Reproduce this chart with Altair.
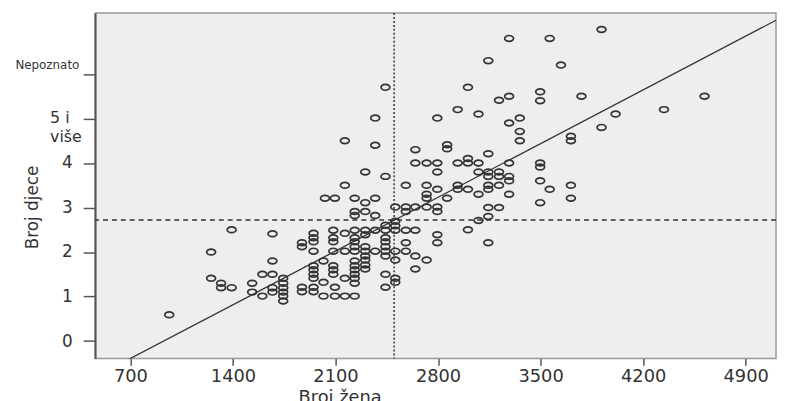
import json
import altair as alt
import pandas as pd

# ---- data ----
x_ticks = [700, 1400, 2100, 2800, 3500, 4200, 4900]
y_ticks = [0, 1, 2, 3, 4, 5, 6]
y_tick_text = ["0", "1", "2", "3", "4", ["5 i", "više"], "Nepoznato"]

# Broj žena (women) and Broj djece (children), one entry per municipality
women = [
    965, 1251, 1391, 1251, 1319, 1319, 1391, 1531, 1531, 1601, 1601, 1670, 1670, 1670, 1670, 1670,
    1743, 1743, 1743, 1743, 1743, 1743,
    1871, 1871, 1871, 1871,
    1950, 1950, 1950, 1950, 1950, 1950, 1950, 1950, 1950, 1950,
    2018, 2018, 2018, 2028, 2096,
    2085, 2085, 2085, 2085, 2085, 2085, 2085, 2096, 2096,
    2164, 2164, 2164, 2164, 2164, 2164,
    2231, 2231, 2231, 2231, 2231, 2231, 2231, 2231, 2231, 2231, 2231, 2231, 2231, 2231, 2231,
    2303, 2303, 2303, 2303, 2303, 2303, 2303, 2303, 2303, 2303, 2303,
    2371, 2371, 2371, 2371, 2371, 2371,
    2441, 2441, 2441, 2441, 2441, 2441, 2441, 2441, 2441, 2441, 2441,
    2508, 2508, 2508, 2508, 2508, 2508, 2508, 2508,
    2580, 2580, 2580, 2580, 2580, 2580,
    2645, 2645, 2645, 2645, 2645, 2645,
    2722, 2722, 2722, 2722, 2722, 2722,
    2795, 2795, 2795, 2795, 2795, 2795, 2795, 2795,
    2862, 2862, 2862,
    2934, 2934, 2934, 2934,
    3004, 3004, 3004, 3004, 3004,
    3076, 3076, 3076, 3076, 3076,
    3143, 3143, 3143, 3143, 3143, 3143, 3143, 3143, 3143,
    3216, 3216, 3216, 3216, 3216,
    3285, 3285, 3285, 3285, 3285, 3285, 3285,
    3358, 3358, 3358,
    3497, 3497, 3497, 3497, 3497, 3497,
    3562, 3562, 3639, 3707, 3707, 3707, 3707, 3779, 3916, 3916, 4012, 4342, 4619,
]
children = [
    0.59, 2.00, 2.50, 1.41, 1.30, 1.20, 1.20, 1.30, 1.10, 1.01, 1.50, 1.50, 1.80, 2.41, 1.20, 1.10,
    1.41, 1.30, 1.20, 1.10, 1.01, 0.90,
    2.21, 2.12, 1.21, 1.11,
    2.42, 2.32, 2.23, 2.02, 1.69, 1.60, 1.50, 1.41, 1.21, 1.11,
    1.80, 1.32, 1.01, 3.21, 3.21,
    2.49, 2.32, 2.23, 2.02, 1.69, 1.60, 1.50, 1.21, 1.01,
    2.42, 2.02, 1.41, 1.01, 3.50, 4.50,
    3.21, 2.91, 2.82, 2.49, 2.32, 2.23, 2.12, 2.02, 1.80, 1.69, 1.60, 1.50, 1.41, 1.30, 1.01,
    3.11, 2.91, 2.49, 2.39, 2.12, 2.02, 1.91, 1.82, 1.71, 1.62, 3.80,
    3.21, 2.82, 2.49, 2.02, 5.01, 4.40,
    5.70, 3.70, 2.60, 2.49, 2.32, 2.23, 2.12, 2.02, 1.91, 1.50, 1.21,
    3.01, 2.69, 2.59, 2.49, 2.02, 1.82, 1.41, 1.32,
    3.50, 3.01, 2.91, 2.49, 2.21, 2.02,
    4.30, 4.00, 3.01, 2.49, 1.91, 1.62,
    4.00, 3.50, 3.30, 3.21, 3.01, 1.82,
    5.01, 4.00, 3.80, 3.41, 3.01, 2.91, 2.39, 2.21,
    4.41, 4.32, 3.21,
    5.20, 4.00, 3.50, 3.41,
    5.70, 4.10, 4.00, 3.41, 2.50,
    5.10, 4.00, 3.80, 3.30, 2.71,
    6.30, 4.21, 3.80, 3.70, 3.50, 3.41, 3.00, 2.80, 2.21,
    5.41, 3.80, 3.70, 3.50, 3.00,
    6.80, 5.50, 4.90, 4.00, 3.70, 3.60, 3.30,
    5.01, 4.71, 4.50,
    5.60, 5.40, 4.00, 3.91, 3.60, 3.11,
    6.80, 3.41, 6.20, 4.60, 4.50, 3.50, 3.21, 5.50, 7.00, 4.80, 5.10, 5.20, 5.50,
]

# reference (mean) lines
ref_women = [2500]
ref_children = [2.72]

# fitted regression line
fit_intercept = -1.597
fit_slope = 0.001724
fit_women = [459, 5107]

x_domain = [459, 5107]
y_domain = [-0.39, 7.37]

# ---- tables ----
pts = pd.DataFrame({"w": women, "c": children})
ref_v = pd.DataFrame({"w": ref_women})
ref_h = pd.DataFrame({"c": ref_children})
fit = pd.DataFrame({"w": fit_women, "c": [fit_intercept + fit_slope * v for v in fit_women]})

FONT = "DejaVu Sans"
INK = "#333333"

x_scale = alt.Scale(domain=x_domain, nice=False, zero=False)
y_scale = alt.Scale(domain=y_domain, nice=False, zero=False)

x_axis = alt.Axis(
    values=x_ticks, format="d", title="Broj žena", grid=False,
    labelFont=FONT, labelFontSize=18, labelColor=INK, labelPadding=2,
    labelFlush=False, labelOverlap=False,
    tickSize=7, tickColor="#555555", tickWidth=1.5,
    domain=False,
    titleFont=FONT, titleFontSize=18, titleFontWeight="normal", titleColor=INK,
    titleX=247, titleY=45, titleAlign="center", titleBaseline="alphabetic",
)

label_js = json.dumps(y_tick_text, ensure_ascii=False).replace('"', "'")
y_axis = alt.Axis(
    values=y_ticks, title="Broj djece", grid=False,
    labelExpr=f"{label_js}[datum.value]",
    labelFont=FONT, labelColor=INK, labelBaseline="middle", labelLineHeight=19,
    labelFontSize={"condition": [{"test": "datum.value == 6", "value": 12},
                                 {"test": "datum.value == 5", "value": 16}], "value": 17},
    labelAlign={"condition": {"test": "datum.value >= 5", "value": "left"}, "value": "right"},
    labelPadding={"condition": [{"test": "datum.value == 6", "value": 69},
                                {"test": "datum.value == 5", "value": 34}], "value": 11},
    labelOffset={"condition": [{"test": "datum.value == 6", "value": -10},
                               {"test": "datum.value == 5", "value": -1}], "value": 0},
    labelFlush=False, labelOverlap=False,
    tickSize=12, tickColor="#555555", tickWidth=1.5,
    domainColor="#555555", domainWidth=2,
    titleFont=FONT, titleFontSize=17, titleFontWeight="normal", titleColor=INK,
    titleX=-63, titleY=196, titleAngle=270, titleAlign="center", titleBaseline="middle",
)

ellipse = "M -1 0 A 1 0.65 0 1 0 1 0 A 1 0.65 0 1 0 -1 0 Z"

points = alt.Chart(pts).mark_point(
    shape=ellipse, size=81, filled=False, strokeWidth=1.7, color="#333333", opacity=1
).encode(
    x=alt.X("w:Q", scale=x_scale, axis=x_axis),
    y=alt.Y("c:Q", scale=y_scale, axis=y_axis),
)

vline = alt.Chart(ref_v).mark_rule(color=INK, strokeWidth=1.5, strokeDash=[2, 2]).encode(
    x=alt.X("w:Q", scale=x_scale, axis=x_axis)
)
hline = alt.Chart(ref_h).mark_rule(color=INK, strokeWidth=1.3, strokeDash=[5, 4]).encode(
    y=alt.Y("c:Q", scale=y_scale, axis=y_axis)
)
fit_line = alt.Chart(fit).mark_line(color=INK, strokeWidth=1.3, clip=True).encode(
    x=alt.X("w:Q", scale=x_scale, axis=x_axis),
    y=alt.Y("c:Q", scale=y_scale, axis=y_axis),
)

chart = alt.layer(vline, hline, fit_line, points).properties(
    width=688, height=349,
    autosize=alt.AutoSizeParams(type="none"),
    padding={"left": 88, "top": 3, "right": 2, "bottom": 48},
    background="white",
).configure_view(
    fill="#eeeeee", stroke="#999999", strokeWidth=1.5
)

chart.save("out.html", embed_options={"renderer": "svg", "actions": False})
